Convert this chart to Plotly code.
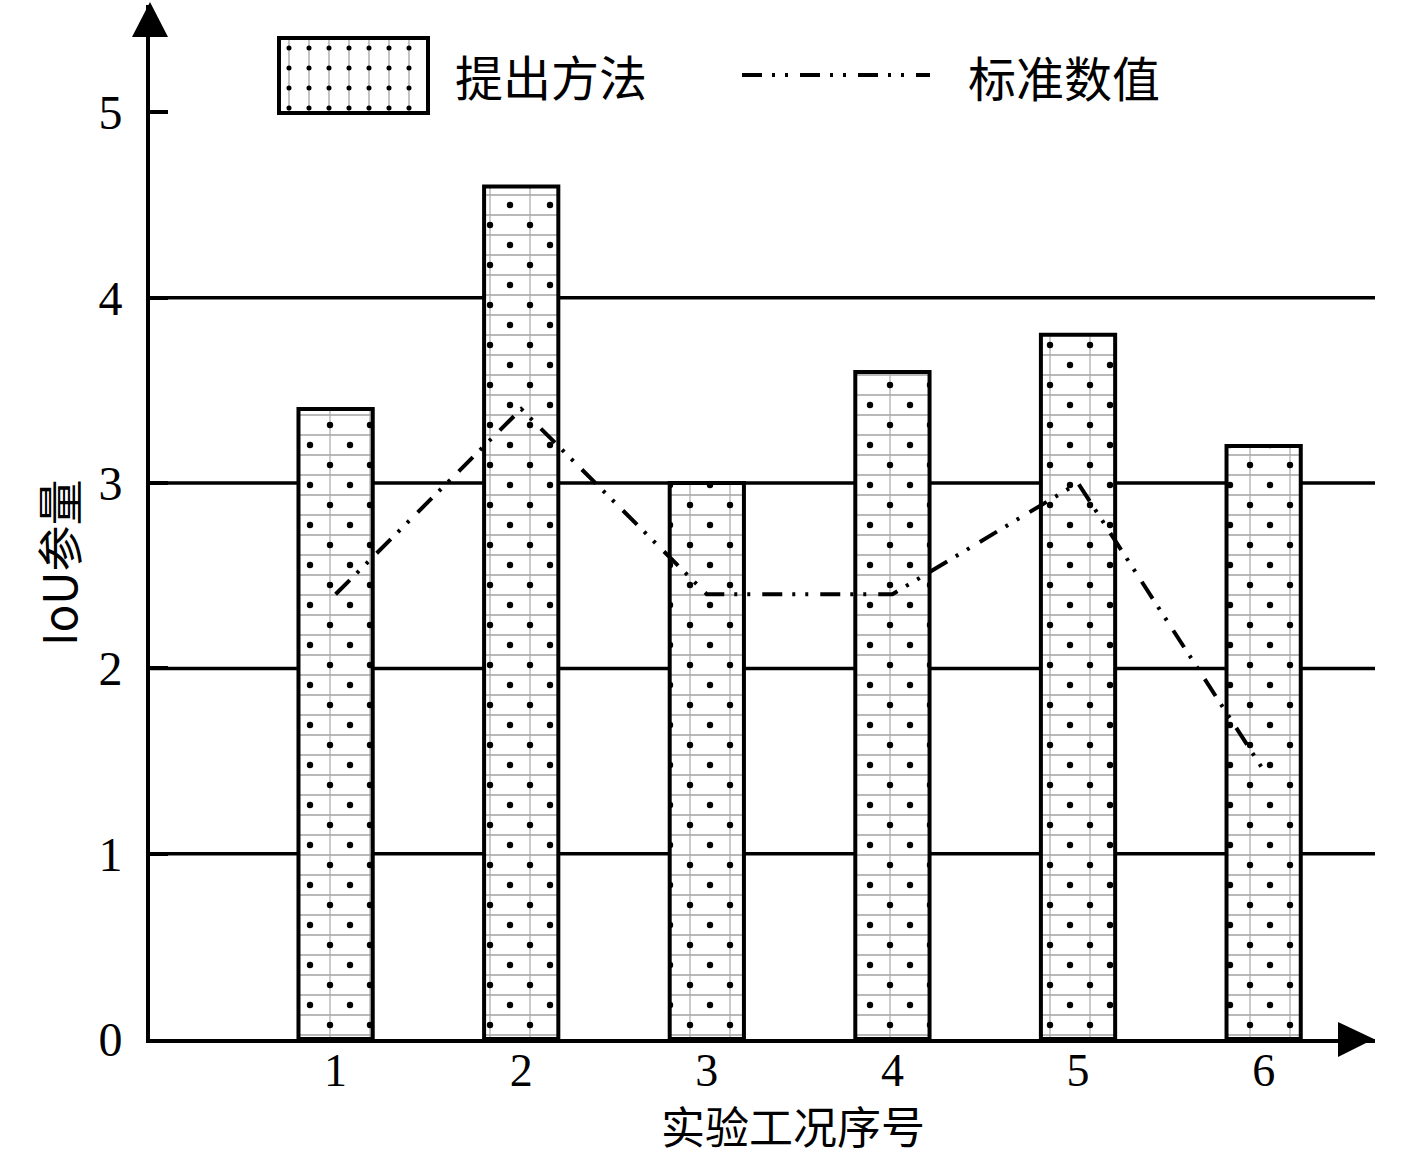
import plotly.graph_objects as go

# ---------------- data ----------------
CASES = [1, 2, 3, 4, 5, 6]
PROPOSED = [3.4, 4.6, 3.0, 3.6, 3.8, 3.2]      # 提出方法 (bars)
STANDARD = [2.4, 3.4, 2.4, 2.4, 3.0, 1.45]     # 标准数值 (dash-dot-dot line)
Y_TICKS = [0, 1, 2, 3, 4, 5]
GRID_VALUES = [1, 2, 3, 4]
X_TITLE = "实验工况序号"
Y_TITLE = "IoU参量"
NAME_BAR = "提出方法"
NAME_LINE = "标准数值"
LEGEND_SWATCH = [1]

# ---------------- geometry ----------------
FIG_W, FIG_H = 1417, 1160
L, R, T, B = 150, 1375, 5, 1039
PW, PH = R - L, B - T
XMAX = 6.6
YMAX = 5.58
XU = PW / XMAX
YU = PH / YMAX
OFF = 20  # pixel offset used to stagger the dot pattern
BW = 0.4


def px(x):
    return (x - L) / PW


def py(y):
    return (B - y) / PH


DASH = "20px,10px,3px,10px,3px,12px"
SERIF = "Liberation Serif, Noto Sans CJK SC, serif"
CJK = "Noto Sans CJK SC, Liberation Serif, sans-serif"
CLEAR = "rgba(0,0,0,0)"
DOT_SOLIDITY = 0.02

fig = go.Figure()

# base layer: white fill + thin horizontal grey lines
fig.add_trace(go.Bar(
    x=CASES, y=PROPOSED, width=BW, name=NAME_BAR, showlegend=False, hoverinfo="skip",
    marker=dict(color="white", line=dict(width=0),
                pattern=dict(shape="-", size=20, solidity=0.06, fgcolor="#8a8a8a",
                             bgcolor="white", fillmode="replace")),
))
# thin vertical grey lines
fig.add_trace(go.Bar(
    x=CASES, y=PROPOSED, width=BW, showlegend=False, hoverinfo="skip",
    marker=dict(color=CLEAR, line=dict(width=0),
                pattern=dict(shape="|", size=40, solidity=0.03, fgcolor="#a8a8a8",
                             bgcolor=CLEAR, fillmode="replace")),
))
# dots, first set
fig.add_trace(go.Bar(
    x=CASES, y=PROPOSED, width=BW, showlegend=False, hoverinfo="skip",
    marker=dict(color=CLEAR, line=dict(width=0),
                pattern=dict(shape=".", size=40, solidity=DOT_SOLIDITY, fgcolor="black",
                             bgcolor=CLEAR, fillmode="replace")),
))
# dots, staggered set (offset subplot) + outline
fig.add_trace(go.Bar(
    x=CASES, y=PROPOSED, width=BW, showlegend=False, hoverinfo="skip",
    xaxis="x2", yaxis="y2",
    marker=dict(color=CLEAR, line=dict(width=4, color="black"),
                pattern=dict(shape=".", size=40, solidity=DOT_SOLIDITY, fgcolor="black",
                             bgcolor=CLEAR, fillmode="replace")),
))
# standard-value line
fig.add_trace(go.Scatter(
    x=CASES, y=STANDARD, mode="lines", name=NAME_LINE, showlegend=False, hoverinfo="skip",
    xaxis="x2", yaxis="y2",
    line=dict(color="black", width=4, dash=DASH),
))

# legend swatch for the bars
fig.add_trace(go.Bar(
    x=[0], y=LEGEND_SWATCH, width=1, showlegend=False, hoverinfo="skip",
    xaxis="x3", yaxis="y3",
    marker=dict(color="white", line=dict(width=0),
                pattern=dict(shape="|", size=20, solidity=0.05, fgcolor="#8a8a8a",
                             bgcolor="white", fillmode="replace")),
))
fig.add_trace(go.Bar(
    x=[0], y=LEGEND_SWATCH, width=1, showlegend=False, hoverinfo="skip",
    xaxis="x3", yaxis="y3",
    marker=dict(color=CLEAR, line=dict(width=0),
                pattern=dict(shape=".", size=20, solidity=0.05, fgcolor="black",
                             bgcolor=CLEAR, fillmode="replace")),
))

shapes = []
for g in GRID_VALUES:
    shapes.append(dict(type="line", xref="x domain", yref="y", x0=0, x1=1, y0=g, y1=g,
                       line=dict(color="black", width=3.5), layer="below"))
# axis arrow heads
shapes.append(dict(type="path", xref="paper", yref="paper",
                   path=f"M{px(150)},{py(2)} L{px(132)},{py(37)} L{px(168)},{py(37)} Z",
                   fillcolor="black", line=dict(width=0)))
shapes.append(dict(type="path", xref="paper", yref="paper",
                   path=f"M{px(1374)},{py(1039)} L{px(1338)},{py(1022)} L{px(1338)},{py(1057)} Z",
                   fillcolor="black", line=dict(width=0)))
# legend swatch border
shapes.append(dict(type="rect", xref="paper", yref="paper",
                   x0=px(279), x1=px(428), y0=py(113), y1=py(38),
                   line=dict(color="black", width=4), fillcolor=CLEAR))
# legend line sample
shapes.append(dict(type="line", xref="paper", yref="paper",
                   x0=px(742), x1=px(930), y0=py(75), y1=py(75),
                   line=dict(color="black", width=4, dash=DASH)))

annotations = [
    dict(text=Y_TITLE, x=px(57), y=py(563), xref="paper", yref="paper", showarrow=False,
         textangle=-90, font=dict(family=CJK, size=46, color="black"),
         xanchor="center", yanchor="middle"),
    dict(text=X_TITLE, x=px(793), y=py(1125), xref="paper", yref="paper", showarrow=False,
         font=dict(family=CJK, size=44, color="black"), xanchor="center", yanchor="middle"),
    dict(text=NAME_BAR, x=px(453), y=py(75), xref="paper", yref="paper", showarrow=False,
         font=dict(family=CJK, size=48, color="black"), xanchor="left", yanchor="middle"),
    dict(text=NAME_LINE, x=px(966), y=py(76), xref="paper", yref="paper", showarrow=False,
         font=dict(family=CJK, size=48, color="black"), xanchor="left", yanchor="middle"),
]

fig.update_layout(
    width=FIG_W, height=FIG_H,
    margin=dict(l=L, r=FIG_W - R, t=T, b=FIG_H - B, pad=0),
    paper_bgcolor="white", plot_bgcolor=CLEAR,
    barmode="overlay", showlegend=False,
    shapes=shapes, annotations=annotations,
    xaxis=dict(domain=[0, 1], range=[0, XMAX], tickmode="array", tickvals=CASES,
               ticktext=[str(c) for c in CASES], ticks="", showgrid=False, zeroline=False,
               showline=True, linewidth=4, linecolor="black",
               tickfont=dict(family=SERIF, size=46, color="black"), ticklabelstandoff=-12),
    yaxis=dict(domain=[0, 1], range=[0, YMAX], tickmode="array", tickvals=Y_TICKS,
               ticktext=[str(v) for v in Y_TICKS], ticks="inside", ticklen=18, tickwidth=3.5,
               tickcolor="black", showgrid=False, zeroline=False,
               showline=True, linewidth=4, linecolor="black",
               tickfont=dict(family=SERIF, size=48, color="black"), ticklabelstandoff=14),
    xaxis2=dict(domain=[OFF / PW, 1], range=[OFF / XU, XMAX], anchor="y2", visible=False),
    yaxis2=dict(domain=[0, 1 - OFF / PH], range=[0, YMAX - OFF / YU], anchor="x2", visible=False),
    xaxis3=dict(domain=[px(279), px(428)], range=[-0.5, 0.5], anchor="y3", visible=False),
    yaxis3=dict(domain=[py(113), py(38)], range=[0, 1], anchor="x3", visible=False),
)

fig.write_html("out.html", config={"displayModeBar": False},
               post_script="document.body.style.margin='0';document.body.style.overflow='hidden';")
